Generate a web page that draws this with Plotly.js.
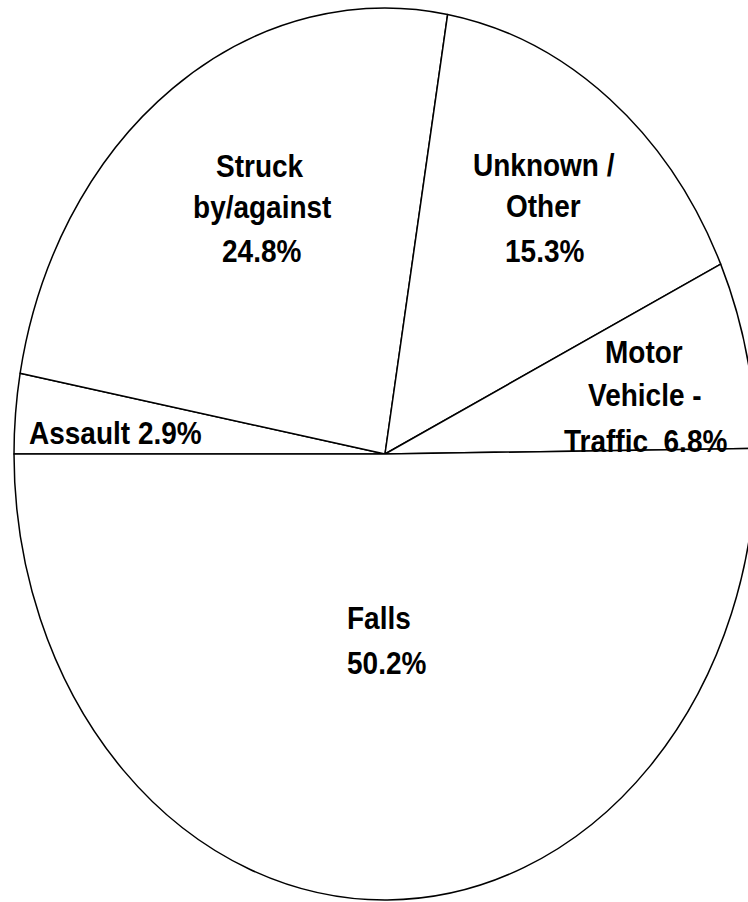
<!DOCTYPE html>
<html>
<head>
<meta charset="utf-8">
<script src="https://cdn.plot.ly/plotly-3.0.1.min.js"></script>
<style>
html,body{margin:0;padding:0;background:#fff;overflow:hidden;width:748px;height:902px;}
#chart{width:790px;height:902px;}
</style>
</head>
<body>
<div id="chart"></div>
<script>
// Data (clockwise from 9 o'clock)
const categories = ["Assault", "Struck by/against", "Unknown / Other", "Motor Vehicle - Traffic", "Falls"];
const values = [2.9, 24.8, 15.3, 6.8, 50.2];
const labelLines = [
  ["Assault 2.9%"],
  ["Struck", "by/against", "24.8%"],
  ["Unknown /", "Other", "15.3%"],
  ["Motor", "Vehicle -", "Traffic  6.8%"],
  ["Falls", "50.2%"]
];

const W = 790, H = 902;
const CX = 385, CY = 454, RX = 371, RY = 446;
const STRETCH = RY / RX;
const TEXT_STRETCH = 1.09;

// label line positions (pixel centers)
const linePos = [
  [[115, 433.5]],
  [[260, 166], [262, 207.5], [261, 251]],
  [[544, 165.5], [543, 206], [544, 251]],
  [[644, 352.5], [645, 396], [646, 441]],
  [[379, 618.5], [386, 663]]
];

const annotations = [];
labelLines.forEach((lines, i) => {
  lines.forEach((t, j) => {
    const p = linePos[i][j];
    annotations.push({
      text: t.replace(/  /g, "&nbsp; "),
      xref: "paper", yref: "paper",
      x: p[0] / W, y: 1 - p[1] / H,
      xanchor: "center", yanchor: "middle",
      showarrow: false,
      font: {family: "Liberation Sans, Arial, sans-serif", size: 28, color: "#000", weight: "bold"}
    });
  });
});

const trace = {
  type: "pie",
  labels: categories,
  values: values,
  sort: false,
  direction: "clockwise",
  rotation: 270,
  textinfo: "none",
  hoverinfo: "skip",
  marker: {colors: categories.map(() => "#ffffff"), line: {color: "#000000", width: 1.5}},
  domain: {x: [(CX - RX) / W, (CX + RX) / W], y: [1 - (CY + RX) / H, 1 - (CY - RX) / H]},
  showlegend: false
};

const layout = {
  width: W, height: H,
  margin: {l: 0, r: 0, t: 0, b: 0},
  paper_bgcolor: "#ffffff",
  plot_bgcolor: "#ffffff",
  showlegend: false,
  annotations: annotations
};

Plotly.newPlot("chart", [trace], layout, {staticPlot: true, displayModeBar: false}).then(() => {
  const pl = document.querySelector(".pielayer");
  if (pl) {
    const bb = pl.getBBox();
    const cy = bb.y + bb.height / 2;
    const prev = pl.getAttribute("transform") || "";
    pl.setAttribute("transform", prev + ` translate(0,${cy}) scale(1,${STRETCH}) translate(0,${-cy})`);
    pl.querySelectorAll("path").forEach(p => p.setAttribute("vector-effect", "non-scaling-stroke"));
  }
  document.querySelectorAll(".annotation-text").forEach(t => {
    const b = t.getBBox();
    const c = b.y + b.height / 2;
    const prev = t.getAttribute("transform") || "";
    t.setAttribute("transform", `translate(0,${c}) scale(1,${TEXT_STRETCH}) translate(0,${-c}) ` + prev);
  });
});
</script>
</body>
</html>
